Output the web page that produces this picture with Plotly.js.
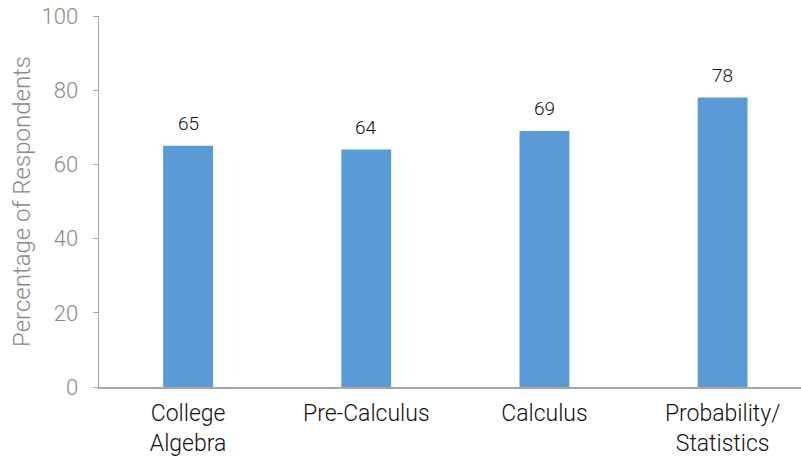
<!DOCTYPE html>
<html>
<head>
<meta charset="utf-8">
<script src="https://cdn.plot.ly/plotly-3.0.1.min.js"></script>
<style>
  html, body { margin: 0; padding: 0; background: #fff; }
  #chart { width: 801px; height: 458px; }
</style>
</head>
<body>
<div id="chart"></div>
<script>
// Course categories and share of respondents (%)
const categories = ["College<br>Algebra", "Pre-Calculus", "Calculus", "Probability/<br>Statistics"];
const percentages = [65, 64, 69, 78];
const yTicks = [0, 20, 40, 60, 80, 100];

const FONT = "Roboto, Liberation Sans, Arial, sans-serif";

const trace = {
  type: "bar",
  x: categories,
  y: percentages,
  marker: { color: "#5b9bd5" },
  hoverinfo: "none"
};

// value labels floating above each bar
const valueLabels = categories.map((c, i) => ({
  x: c,
  y: percentages[i],
  xref: "x",
  yref: "y",
  text: String(percentages[i]),
  showarrow: false,
  yanchor: "bottom",
  yshift: 9,
  font: { family: FONT, size: 19, color: "#111", weight: 300 }
}));

const layout = {
  width: 801,
  height: 458,
  margin: { l: 99, r: 0, t: 16, b: 71 },
  paper_bgcolor: "#fff",
  plot_bgcolor: "#fff",
  bargap: 0.72,
  showlegend: false,
  font: { family: FONT },
  annotations: valueLabels,
  xaxis: {
    type: "category",
    range: [-0.5, 3.44],
    showgrid: false,
    showline: true,
    linecolor: "#a6a6a6",
    linewidth: 1.5,
    ticks: "",
    tickfont: { family: FONT, size: 23, color: "#111", weight: 300 },
    ticklabelstandoff: 5,
    zeroline: false
  },
  yaxis: {
    range: [0, 100],
    tickvals: yTicks,
    ticktext: yTicks.map(String),
    showgrid: false,
    zeroline: false,
    showline: true,
    linecolor: "#a6a6a6",
    linewidth: 1.5,
    ticks: "outside",
    ticklen: 5,
    tickcolor: "#a6a6a6",
    tickfont: { family: FONT, size: 22, color: "#8a8a8a", weight: 300 },
    ticklabelstandoff: 10,
    title: {
      text: "Percentage of Respondents",
      font: { family: FONT, size: 24, color: "#8a8a8a", weight: 300 },
      standoff: 4
    }
  }
};

Plotly.newPlot("chart", [trace], layout, { staticPlot: true, displayModeBar: false });
</script>
</body>
</html>
